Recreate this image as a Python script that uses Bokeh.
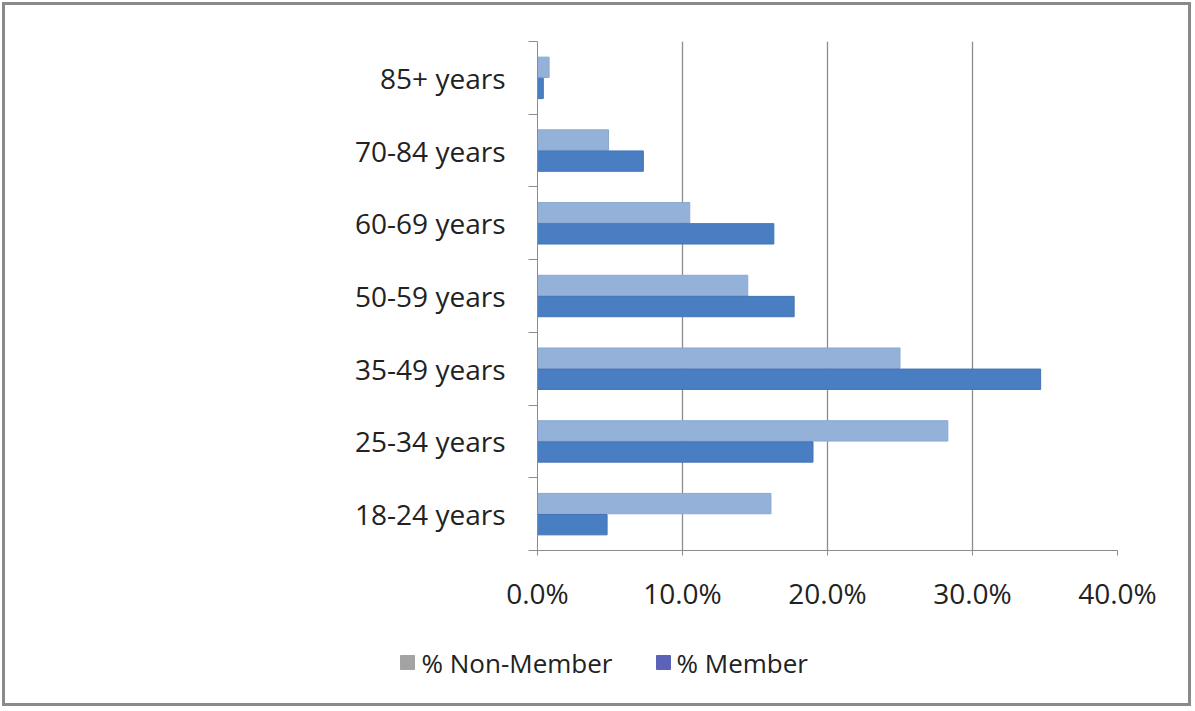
from bokeh.plotting import figure
from bokeh.layouts import column
from bokeh.models import Range1d, FixedTicker, ColumnDataSource
from bokeh.core.properties import value
from bokeh.embed import file_html
from bokeh.resources import INLINE

categories = ["18-24 years", "25-34 years", "35-49 years", "50-59 years",
              "60-69 years", "70-84 years", "85+ years"]
non_member = [16.1, 28.3, 25.0, 14.5, 10.5, 4.9, 0.8]
member = [4.8, 19.0, 34.7, 17.7, 16.3, 7.3, 0.4]
x_ticks = [0, 10, 20, 30, 40]
series_names = ["% Non-Member", "% Member"]

FONT = "Open Sans"
W, H1, H2 = 1183, 617, 81

centers = [i + 0.5 for i in range(len(categories))]
src = ColumnDataSource(dict(
    y_non=[c + 0.145 for c in centers],
    y_mem=[c - 0.145 for c in centers],
    non=non_member, mem=member))

p = figure(width=W, height=H1, output_backend="svg", toolbar_location=None,
           x_range=Range1d(0, 40), y_range=Range1d(0, len(categories)),
           min_border_left=532, min_border_right=71, min_border_top=36,
           min_border_bottom=72, background_fill_color="white",
           border_fill_color="white")
p.outline_line_color = None

p.hbar(y="y_non", right="non", left=0, height=0.28, source=src,
       fill_color="#93B1D9", line_color="#8aa8d0", line_width=1)
p.hbar(y="y_mem", right="mem", left=0, height=0.28, source=src,
       fill_color="#4A7EC2", line_color="#4574b3", line_width=1)

# x axis
p.xaxis.ticker = FixedTicker(ticks=x_ticks)
p.xaxis.major_label_overrides = {t: f"{t:.1f}%" for t in x_ticks}
p.xaxis.major_label_text_font = FONT
p.xaxis.major_label_text_font_size = "28px"
p.xaxis.major_label_text_color = "#222222"
p.xaxis.major_label_standoff = 18
p.xaxis.axis_line_color = "#8c8c8c"
p.xaxis.major_tick_line_color = "#8c8c8c"
p.xaxis.major_tick_out = 5
p.xaxis.major_tick_in = 0
p.xaxis.minor_tick_line_color = None

# y axis
p.yaxis.ticker = FixedTicker(ticks=centers, minor_ticks=list(range(len(categories) + 1)))
p.yaxis.major_label_overrides = {c: lab for c, lab in zip(centers, categories)}
p.yaxis.major_label_text_font = FONT
p.yaxis.major_label_text_font_size = "28px"
p.yaxis.major_label_text_color = "#222222"
p.yaxis.major_label_standoff = 23
p.yaxis.major_tick_line_color = None
p.yaxis.minor_tick_line_color = "#8c8c8c"
p.yaxis.minor_tick_out = 9
p.yaxis.minor_tick_in = 0
p.yaxis.axis_line_color = "#8c8c8c"

p.xgrid.ticker = FixedTicker(ticks=x_ticks[1:])
p.xgrid.grid_line_color = "#8c8c8c"
p.xgrid.grid_line_width = 1.3
p.ygrid.grid_line_color = None

# legend strip below the chart (pixel coordinates)
q = figure(width=W, height=H2, output_backend="svg", toolbar_location=None,
           x_range=Range1d(0, W), y_range=Range1d(0, H2),
           min_border=0, background_fill_color="white", border_fill_color="white")
q.frame_align = False
q.axis.visible = False
q.grid.visible = False
q.outline_line_color = None
leg = ColumnDataSource(dict(mx=[402, 658], my=[41, 41], tx=[416, 671],
                            label=series_names, color=["#A3A3A3", "#5B62B8"]))
q.scatter(x="mx", y="my", marker="square", size=14, fill_color="color",
          line_color="color", source=leg)
q.text(x="tx", y="my", text="label", source=leg, text_font=value(FONT),
       text_font_size="26px", text_color="#222222", text_baseline="middle",
       text_align="left")

layout = column(p, q, spacing=0,
                styles={"border": "3px solid #8a8a8a", "margin-left": "2px", "margin-top": "2px"})

open("out.html", "w").write(file_html(layout, INLINE))
